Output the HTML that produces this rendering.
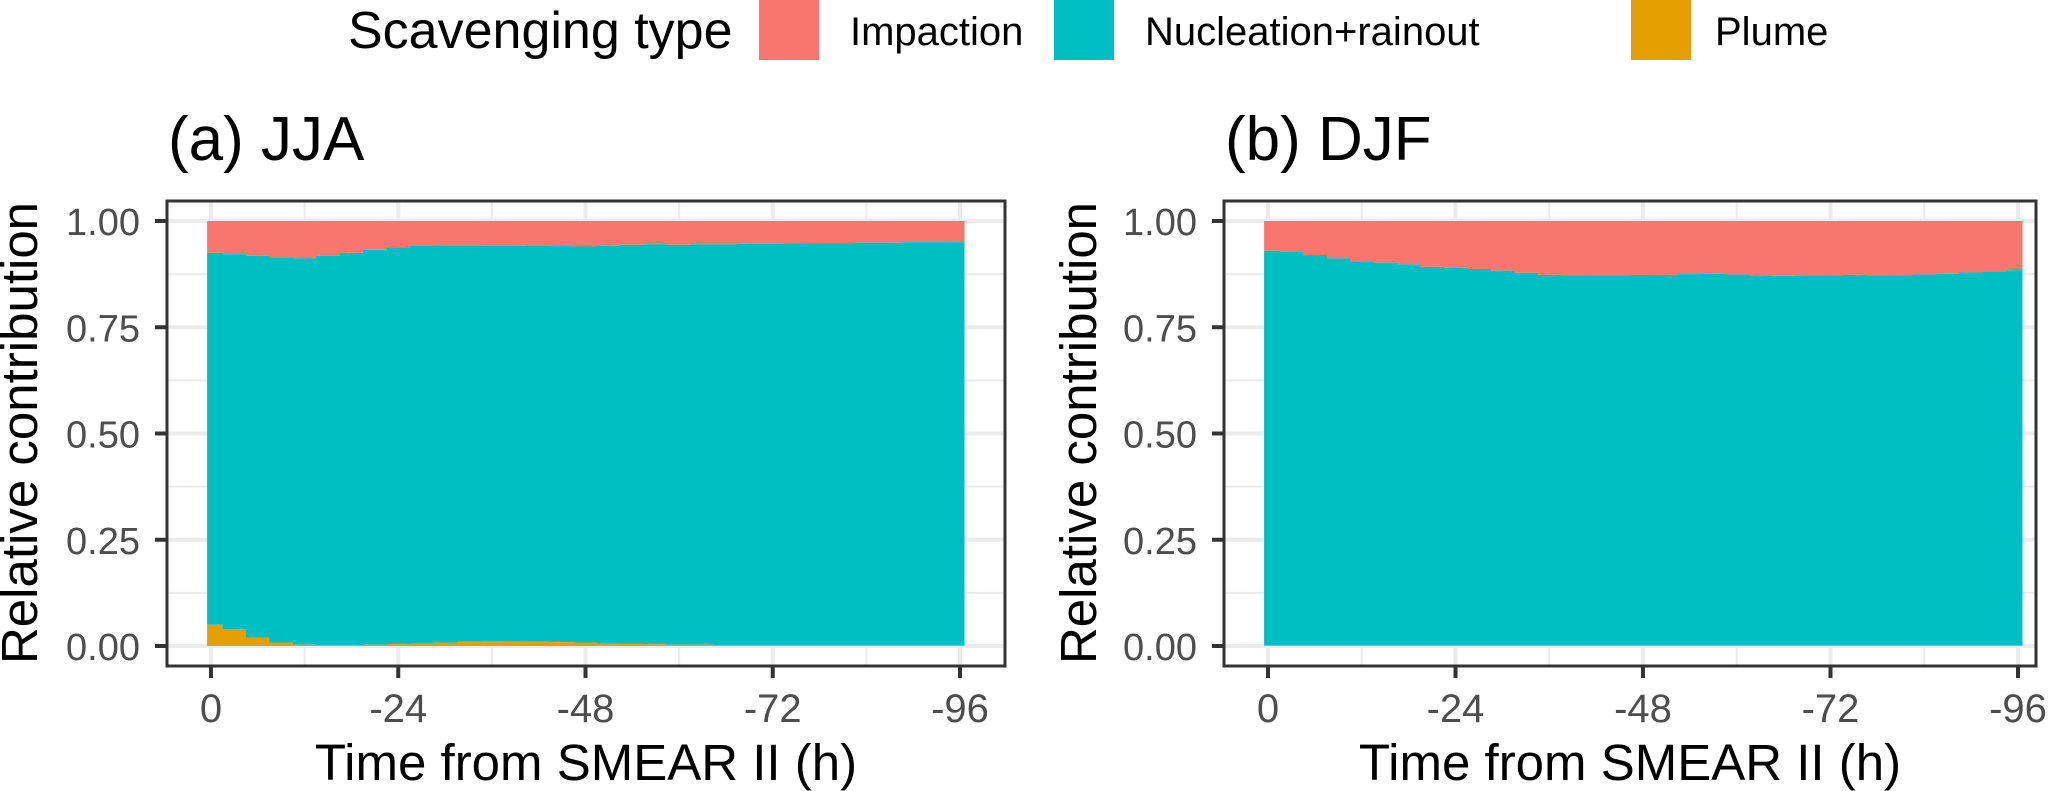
<!DOCTYPE html>
<html><head><meta charset="utf-8"><style>
body{margin:0;background:#fff}
svg{display:block;font-family:"Liberation Sans",Arial,sans-serif}
</style></head><body>
<svg id="c" width="2066" height="791" viewBox="0 0 2066 791" xmlns="http://www.w3.org/2000/svg">
<g>
<text x="348" y="48" font-size="52" fill="#000">Scavenging type</text>
<rect x="759" y="0" width="60" height="60" fill="#F8766D"/>
<text x="850" y="45" font-size="40" fill="#000">Impaction</text>
<rect x="1054" y="0" width="60" height="60" fill="#00BFC4"/>
<text x="1145" y="45" font-size="40" fill="#000">Nucleation+rainout</text>
<rect x="1631" y="0" width="60" height="60" fill="#E69F00"/>
<text x="1715" y="45" font-size="40" fill="#000">Plume</text>
</g>
</svg>
<script>
const hours=[0,3,6,9,12,15,18,21,24,27,30,33,36,39,42,45,48,51,54,57,60,63,66,69,72,75,78,81,84,87,90,93,96];
const jjaTop=[0.925,0.922,0.918,0.914,0.912,0.918,0.925,0.932,0.938,0.942,0.943,0.943,0.942,0.942,0.943,0.941,0.940,0.942,0.944,0.945,0.944,0.945,0.945,0.946,0.946,0.947,0.948,0.948,0.949,0.949,0.95,0.95,0.95];
const jjaPlume=[0.05,0.04,0.02,0.008,0.003,0.002,0.002,0.003,0.004,0.006,0.008,0.01,0.011,0.01,0.01,0.009,0.008,0.006,0.005,0.004,0.003,0.003,0.002,0.002,0.002,0.002,0.002,0.002,0.002,0.002,0.002,0.002,0.002];
const djfTop=[0.93,0.928,0.92,0.912,0.905,0.902,0.898,0.892,0.89,0.887,0.883,0.878,0.873,0.872,0.872,0.872,0.873,0.873,0.875,0.876,0.874,0.872,0.871,0.872,0.872,0.873,0.872,0.872,0.874,0.876,0.879,0.881,0.884];
const djfPlume=[0.002,0.002,0.002,0.002,0.002,0.002,0.002,0.002,0.002,0.002,0.002,0.002,0.002,0.002,0.002,0.002,0.002,0.002,0.002,0.002,0.002,0.002,0.002,0.002,0.002,0.002,0.002,0.002,0.002,0.002,0.002,0.002,0.002];
const xTicks=[0,24,48,72,96];
const xTickLabels=["0","-24","-48","-72","-96"];
const yTicks=[0,0.25,0.5,0.75,1];
const yTickLabels=["0.00","0.25","0.50","0.75","1.00"];

const NS="http://www.w3.org/2000/svg";
const svg=document.getElementById('c');
function mk(tag,attrs,parent){const e=document.createElementNS(NS,tag);for(const k in attrs)e.setAttribute(k,attrs[k]);(parent||svg).appendChild(e);return e;}

function panel(cfg){
  const g=mk('g',{});
  
  
  const L=cfg.left,R=cfg.right,T=201,B=666;
  const x=h=>cfg.x0+(cfg.x96-cfg.x0)*h/96;
  const y=v=>646-(646-221)*v;
  mk('rect',{x:L,y:T,width:R-L,height:B-T,fill:'#fff'},g);
  [0.125,0.375,0.625,0.875].forEach(v=>mk('line',{x1:L,x2:R,y1:y(v),y2:y(v),stroke:'#ebebeb','stroke-width':2},g));
  [12,36,60,84].forEach(h=>mk('line',{x1:x(h),x2:x(h),y1:T,y2:B,stroke:'#ebebeb','stroke-width':2},g));
  yTicks.forEach(v=>mk('line',{x1:L,x2:R,y1:y(v),y2:y(v),stroke:'#ebebeb','stroke-width':4},g));
  xTicks.forEach(h=>mk('line',{x1:x(h),x2:x(h),y1:T,y2:B,stroke:'#ebebeb','stroke-width':4},g));
  hours.forEach((h,i)=>{
    const a=Math.max(-0.5,h-1.5),b=Math.min(96.5,h+1.5);
    const xa=x(a),w=x(b)-x(a)+0.6;
    const top=cfg.top[i],pl=cfg.plume[i];
    const r1=mk('rect',{x:xa,y:y(1),width:w,height:y(top)-y(1),fill:'#F8766D'},g);
    
    
    const r2=mk('rect',{x:xa,y:y(top),width:w,height:y(pl)-y(top),fill:'#00BFC4'},g);
    
    
    const r3=mk('rect',{x:xa,y:y(pl),width:w,height:y(0)-y(pl),fill:'#E69F00'},g);
    
    
  });
  mk('rect',{x:L,y:T,width:R-L,height:B-T,fill:'none',stroke:'#333','stroke-width':3},g);
  yTicks.forEach((v,i)=>{
    mk('line',{x1:L-12,x2:L,y1:y(v),y2:y(v),stroke:'#333','stroke-width':4},g);
    const t=mk('text',{x:L-27,y:y(v)+14,'text-anchor':'end','font-size':38,fill:'#4d4d4d'},g);
    t.textContent=yTickLabels[i];
    
    
  });
  xTicks.forEach((h,i)=>{
    mk('line',{x1:x(h),x2:x(h),y1:B,y2:B+12,stroke:'#333','stroke-width':4},g);
    const t=mk('text',{x:x(h),y:722,'text-anchor':'middle','font-size':40,fill:'#4d4d4d'},g);
    t.textContent=xTickLabels[i];
    
    
  });
  const xt=mk('text',{x:(L+R)/2,y:780,'text-anchor':'middle','font-size':51,fill:'#000'},g);
  xt.textContent='Time from SMEAR II (h)';
  
  
  const yt=mk('text',{x:0,y:0,'text-anchor':'middle','font-size':51,fill:'#000',transform:`translate(${cfg.ytx},433) rotate(-90)`},g);
  yt.textContent='Relative contribution';
  
  
  const pt=mk('text',{x:L+1,y:160,'font-size':62,fill:'#000'},g);
  pt.textContent=cfg.title;
  
  
}
panel({name:'panel-jja',left:167,right:1005,x0:211,x96:960,top:jjaTop,plume:jjaPlume,ytx:37,title:'(a) JJA'});
panel({name:'panel-djf',left:1224,right:2036,x0:1268,x96:2018,top:djfTop,plume:djfPlume,ytx:1096,title:'(b) DJF'});
</script>
</body></html>
